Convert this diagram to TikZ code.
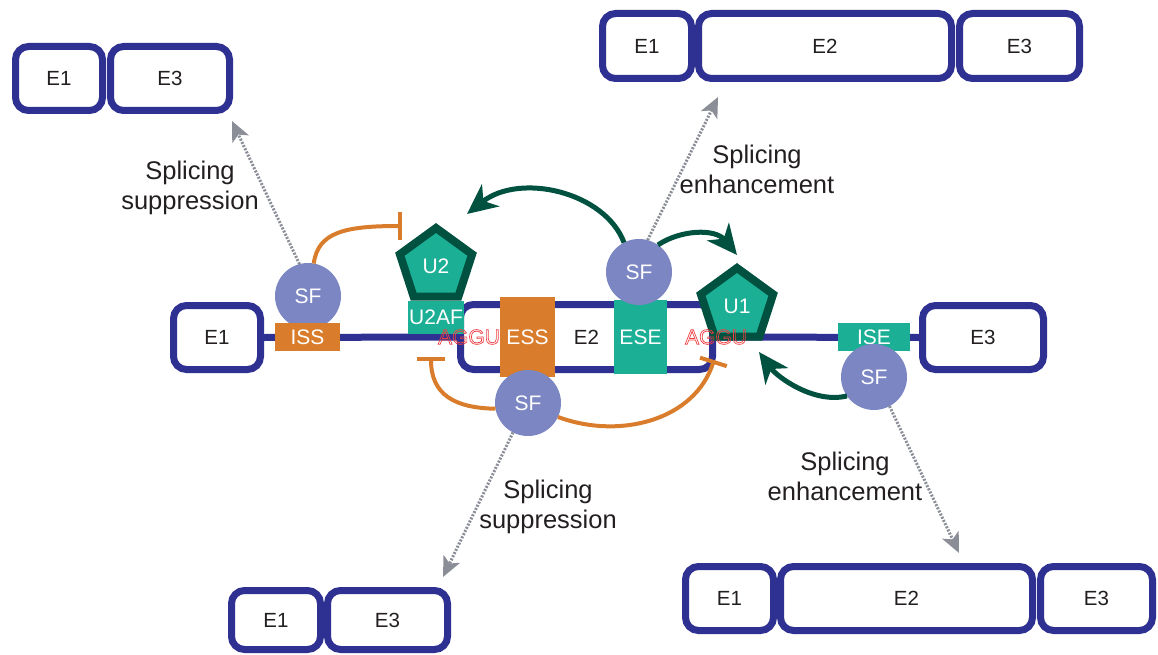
\documentclass[tikz,border=0pt]{standalone}
\usepackage{fontspec}
\setmainfont{Liberation Sans}
\usetikzlibrary{arrows.meta,shapes.geometric}
\definecolor{navy}{HTML}{2E3192}
\definecolor{orng}{HTML}{D97C2B}
\definecolor{tealc}{HTML}{1BAF95}
\definecolor{dkgreen}{HTML}{00513F}
\definecolor{sfcol}{HTML}{7B86C3}
\definecolor{grayarr}{HTML}{8B8E97}
\definecolor{redtxt}{HTML}{EF3E42}
\definecolor{txt}{HTML}{231F20}
\newcommand{\outl}[1]{\special{pdf:literal direct 1 Tr 0.7 w}#1\special{pdf:literal direct 0 Tr}}
\tikzset{
  exon/.style={draw=navy, line width=7pt, fill=white, rounded corners=13pt, inner sep=0pt, text=txt, font=\fontsize{20.5}{24}\selectfont},
  site/.style={inner sep=0pt, text=white, font=\fontsize{21}{24}\selectfont},
  sf/.style={circle, fill=sfcol, minimum size=66pt, inner sep=0pt, outer sep=0pt, text=white, font=\fontsize{21}{24}\selectfont},
  snrnp/.style={regular polygon, regular polygon sides=5, draw=dkgreen, fill=tealc, line width=8pt, minimum size=76pt, inner sep=0pt, text=white, font=\fontsize{21}{24}\selectfont},
  backbone/.style={navy, line width=7pt},
  inhib/.style={orng, line width=4pt, -{Bar[width=28pt]}},
  promote/.style={dkgreen, line width=5pt, -{Stealth[length=30pt,width=28pt,inset=9pt]}},
  outcome/.style={grayarr, line width=3pt, dash pattern=on 2pt off 1.5pt, -{Stealth[length=20pt,width=18pt,inset=5pt]}},
  lab/.style={text=txt, align=center, font=\fontsize{25.5}{30}\selectfont},
  motif/.style={inner sep=0pt, text=redtxt, font=\fontsize{21}{24}\selectfont},
}
\begin{document}
\begin{tikzpicture}[x=1pt, y=-1pt]
\useasboundingbox (0,0) rectangle (1158,655);

% outcome transcripts
\node[exon, minimum width=87pt, minimum height=64pt] (tlE1) at (59,78.5) {E1};
\node[exon, minimum width=119pt, minimum height=64pt] (tlE3) at (170,78.5) {E3};
\node[exon, minimum width=89pt, minimum height=65pt] (trE1) at (647,46) {E1};
\node[exon, minimum width=253pt, minimum height=65pt] (trE2) at (825,46) {E2};
\node[exon, minimum width=120pt, minimum height=65pt] (trE3) at (1019.5,46) {E3};
\node[exon, minimum width=89pt, minimum height=59pt] (blE1) at (276,620) {E1};
\node[exon, minimum width=120pt, minimum height=59pt] (blE3) at (387.5,620) {E3};
\node[exon, minimum width=88pt, minimum height=64pt] (brE1) at (729.5,598.5) {E1};
\node[exon, minimum width=252pt, minimum height=64pt] (brE2) at (906.5,598.5) {E2};
\node[exon, minimum width=112pt, minimum height=64pt] (brE3) at (1096.5,598.5) {E3};

% pre-mRNA
\node[exon, minimum width=87pt, minimum height=64pt] (mE1) at (217,337.5) {E1};
\node[exon, minimum width=252pt, minimum height=65pt] (mE2) at (586.5,337) {E2};
\node[exon, minimum width=121pt, minimum height=64pt] (mE3) at (983,337.5) {E3};
\draw[backbone] (mE1.east) -- (mE2.west);
\draw[backbone] (mE2.east) -- (mE3.west);

% SF on ISS
\node[sf] (sfL) at (308,296) {SF};

% sites
\node[site, fill=orng, minimum width=65pt, minimum height=28pt] (iss) at (307.5,337) {ISS};
\node[site, fill=tealc, minimum width=56pt, minimum height=33pt] (u2af) at (436,317.5) {U2AF};
\node[site, fill=orng, minimum width=55pt, minimum height=80pt] (ess) at (527.5,337) {ESS};
\node[site, fill=tealc, minimum width=53pt, minimum height=74pt] (ese) at (640.5,337) {ESE};
\node[site, fill=tealc, minimum width=72pt, minimum height=28pt] (ise) at (874,337) {ISE};

% snRNPs
\node[snrnp] (u2) at (436,266) {U2};
\node[snrnp] (u1) at (737,306) {U1};

% splice-site motifs
\node[motif] (ag3) at (469,337) {\outl{AGGU}};
\node[motif] (ag5) at (716,337) {\outl{AGGU}};

% other SFs
\node[sf] (sfT) at (639,272) {SF};
\node[sf] (sfB) at (528,403) {SF};
\node[sf] (sfR) at (874,377) {SF};

% inhibition
\coordinate (iA) at (402,226);
\coordinate (iB) at (431,357);
\coordinate (iC) at (714,360);
\draw[inhib] (sfL.80) .. controls (318,232) and (345,226) .. (iA);
\draw[inhib] (sfB.190) .. controls (455,408) and (431,395) .. (iB);
\draw[inhib] (sfB.-25) .. controls (620,440) and (695,420) .. (iC);

% promotion
\coordinate (pA) at (467,214);
\coordinate (pB) at (737,255);
\coordinate (pC) at (759,352);
\draw[promote] (sfT.117) .. controls (605,192) and (520,172) .. (pA);
\draw[promote] (sfT.55) .. controls (680,230) and (715,228) .. (pB);
\draw[promote] (sfR.215) .. controls (815,404) and (778,378) .. (pC);

% outcomes
\coordinate (o1) at (232,121);
\coordinate (o2) at (718,97);
\coordinate (o3) at (443,577);
\coordinate (o4) at (959,553);
\draw[outcome] (sfL.105) -- (o1);
\draw[outcome] (sfT.75) -- (o2);
\draw[outcome] (sfB.243) -- (o3);
\draw[outcome] (sfR.298) -- (o4);

% labels
\node[lab] (lab1) at (190,188) {Splicing\\suppression};
\node[lab] (lab2) at (757,169) {Splicing\\enhancement};
\node[lab] (lab3) at (548,507) {Splicing\\suppression};
\node[lab] (lab4) at (845,476) {Splicing\\enhancement};
\end{tikzpicture}
\end{document}
